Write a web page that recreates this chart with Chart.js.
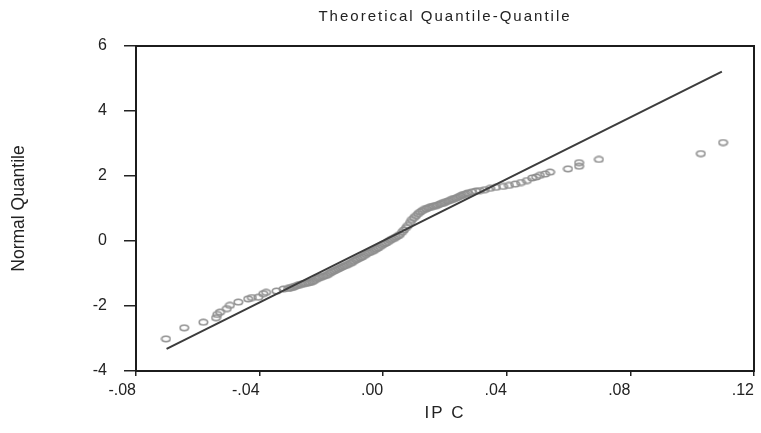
<!DOCTYPE html>
<html><head><meta charset="utf-8">
<script src="https://cdn.jsdelivr.net/npm/chart.js@4"></script>
<style>html,body{margin:0;padding:0;background:#fff;overflow:hidden;}</style>
</head><body>
<canvas id="c" width="761" height="433"></canvas>
<script>
// IPC sample quantiles (x) vs theoretical normal quantiles (y)
const qqX = [-0.0703,-0.0644,-0.0582,-0.0541,-0.0537,-0.0528,-0.0506,-0.0496,-0.0469,-0.0437,-0.0425,-0.0404,-0.0388,-0.0379,-0.0345,-0.0323,
-0.0308,-0.0302,-0.0295,-0.0289,-0.0282,-0.0276,-0.0269,-0.0263,-0.0256,-0.0250,-0.0243,-0.0237,-0.0230,-0.0224,-0.0217,-0.0211,-0.0205,-0.0198,-0.0192,-0.0185,-0.0179,-0.0172,-0.0166,-0.0159,-0.0153,-0.0146,-0.0140,-0.0133,-0.0127,-0.0120,-0.0114,-0.0107,-0.0101,-0.0095,-0.0088,-0.0082,-0.0075,-0.0069,-0.0062,-0.0056,-0.0049,-0.0043,-0.0036,-0.0030,-0.0023,-0.0017,-0.0010,-0.0004,
0.0003,0.0009,0.0016,0.0022,0.0028,0.0035,0.0041,0.0048,0.0054,0.0061,0.0067,0.0074,0.0080,0.0087,0.0093,0.0100,0.0106,0.0113,0.0119,0.0126,0.0132,0.0139,0.0145,0.0151,0.0158,0.0164,0.0171,0.0177,0.0184,0.0190,0.0197,0.0203,0.0210,0.0216,0.0223,0.0229,0.0236,0.0242,0.0249,0.0255,0.0261,0.0268,0.0274,
0.0287,0.0300,0.0313,0.0329,0.0346,0.0365,0.0388,0.0407,0.0427,0.0446,0.0465,0.0482,0.0495,0.0507,0.0524,0.0540,0.0598,0.0634,0.0634,0.0698,0.1028,0.1100];
const qqY = [-3.01,-2.67,-2.50,-2.36,-2.26,-2.19,-2.08,-1.98,-1.88,-1.78,-1.74,-1.73,-1.62,-1.58,-1.54,-1.48,
-1.46,-1.45,-1.43,-1.41,-1.38,-1.36,-1.34,-1.32,-1.31,-1.30,-1.29,-1.27,-1.25,-1.22,-1.18,-1.15,-1.12,-1.10,-1.08,-1.06,-1.03,-0.99,-0.95,-0.92,-0.89,-0.86,-0.83,-0.80,-0.77,-0.75,-0.72,-0.69,-0.66,-0.62,-0.58,-0.55,-0.52,-0.49,-0.45,-0.41,-0.37,-0.35,-0.32,-0.29,-0.25,-0.21,-0.17,-0.13,
-0.09,-0.06,-0.02,0.02,0.05,0.08,0.12,0.16,0.20,0.27,0.34,0.41,0.48,0.57,0.66,0.72,0.78,0.84,0.89,0.93,0.97,0.99,1.02,1.04,1.06,1.08,1.09,1.11,1.14,1.16,1.18,1.21,1.23,1.25,1.28,1.30,1.32,1.35,1.38,1.41,1.43,1.45,1.48,
1.51,1.54,1.55,1.58,1.62,1.65,1.68,1.71,1.75,1.80,1.86,1.94,1.97,2.02,2.06,2.12,2.22,2.30,2.41,2.51,2.69,3.03];
// Theoretical reference line end points
const fitX = [-0.0701, 0.1096];
const fitY = [-3.32, 5.21];
// Axis ticks
const xTickValues = [-0.08, -0.04, 0, 0.04, 0.08, 0.12];
const xTickLabels = ['-.08', '-.04', '.00', '.04', '.08', '.12'];
const yTickValues = [-4, -2, 0, 2, 4, 6];
const yTickLabels = ['-4', '-2', '0', '2', '4', '6'];

const FONT = '"Liberation Sans", Arial, Helvetica, sans-serif';
Chart.defaults.font.family = FONT;
Chart.defaults.color = '#222';

// hollow ellipse marker
const mk = document.createElement('canvas');
mk.width = 11; mk.height = 8;
const m = mk.getContext('2d');
m.strokeStyle = '#8f8f8f';
m.lineWidth = 1.6;
m.beginPath();
m.ellipse(5.5, 4, 4.2, 2.7, 0, 0, Math.PI * 2);
m.stroke();

const spacingPlugin = {
  id: 'titleSpacing',
  beforeDraw(chart) { chart.ctx.letterSpacing = '2px'; },
  beforeDatasetsDraw(chart) { chart.ctx.letterSpacing = '0px'; }
};
const framePlugin = {
  id: 'frame',
  afterDraw(chart) {
    const a = chart.chartArea, c = chart.ctx;
    c.save();
    c.strokeStyle = '#1c1c1c';
    c.lineWidth = 2;
    c.strokeRect(a.left, a.top, a.right - a.left, a.bottom - a.top);
    c.restore();
  }
};

new Chart(document.getElementById('c'), {
  type: 'scatter',
  data: {
    datasets: [
      {
        label: 'IPC',
        data: qqX.map((x, i) => ({x: x, y: qqY[i]})),
        pointStyle: mk,
        pointRadius: 4,
        showLine: false,
        order: 2
      },
      {
        label: 'Normal line',
        type: 'line',
        data: fitX.map((x, i) => ({x: x, y: fitY[i]})),
        showLine: true,
        borderColor: '#3c3c3c',
        borderWidth: 2,
        pointRadius: 0,
        fill: false,
        order: 1
      }
    ]
  },
  options: {
    responsive: false,
    animation: false,
    devicePixelRatio: 1,
    layout: {padding: {left: 0, right: 7, top: 0, bottom: 0}},
    plugins: {
      legend: {display: false},
      tooltip: {enabled: false},
      title: {
        display: true,
        fullSize: false,
        text: 'Theoretical Quantile-Quantile',
        color: '#222',
        font: {family: FONT, size: 15, weight: 'normal', lineHeight: 1.2},
        padding: {top: 7.5, bottom: 20.5}
      }
    },
    scales: {
      x: {
        type: 'linear',
        min: -0.08, max: 0.12,
        afterBuildTicks: s => { s.ticks = xTickValues.map(v => ({value: v})); },
        afterFit: s => { s.height = 62; s.paddingLeft = 0; s.paddingRight = 0; },
        ticks: {
          callback: (v, i) => xTickLabels[i],
          font: {size: 16}, color: '#222', padding: 5.3, align: 'end',
          maxRotation: 0, autoSkip: false, z: 1
        },
        grid: {drawOnChartArea: false, drawTicks: true, tickLength: 5, color: '#222', lineWidth: 1.5, z: 0},
        border: {display: false, z: 1},
        title: {display: true, text: 'IP C', color: '#222', font: {size: 17, lineHeight: 1.2}, padding: {top: 0, bottom: 9.2}}
      },
      y: {
        type: 'linear',
        min: -4, max: 6,
        afterBuildTicks: s => { s.ticks = yTickValues.map(v => ({value: v})); },
        afterFit: s => { s.width = 136; s.paddingTop = 0; s.paddingBottom = 0; },
        ticks: {
          callback: (v, i) => yTickLabels[i],
          font: {size: 16}, color: '#222', padding: 17, autoSkip: false, z: 1
        },
        grid: {drawOnChartArea: false, drawTicks: true, tickLength: 12, color: '#222', lineWidth: 1.5, z: 1},
        border: {display: false, z: 1},
        title: {display: true, text: 'Normal Quantile', color: '#222', font: {size: 17.5, lineHeight: 1.2}, padding: {top: 8.5, bottom: 0}}
      }
    }
  },
  plugins: [spacingPlugin, framePlugin]
});
</script>
</body></html>
